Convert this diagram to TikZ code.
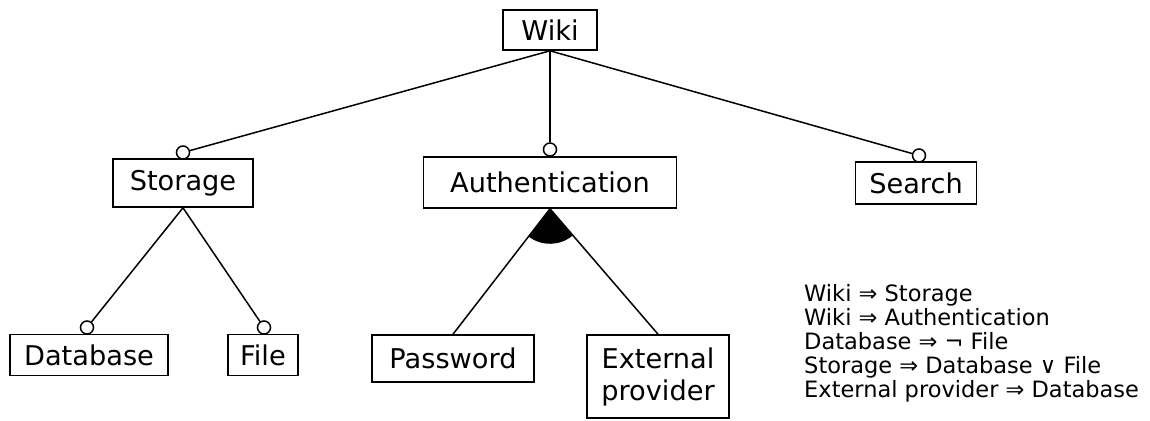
\documentclass[tikz,border=0pt]{standalone}
\usepackage{fontspec}
\setmainfont{DejaVu Sans}
\begin{document}
\begin{tikzpicture}[x=1pt,y=-1pt,
  feat/.style={draw,line width=1.6pt,inner sep=0pt,font=\fontsize{27.2}{32}\selectfont},
  opt/.style={circle,draw,line width=1.5pt,fill=white,minimum size=13pt,inner sep=0pt},
  con/.style={line width=1.5pt},
  rule/.style={anchor=base west,inner sep=0pt,font=\fontsize{22.5}{24}\selectfont}]
\useasboundingbox (0,0) rectangle (1150,420);
% features
\node[feat,minimum width=94pt,minimum height=40pt] (wiki) at (550,30) {Wiki};
\node[feat,minimum width=140pt,minimum height=48pt] (stor) at (183,183) {Storage};
\node[feat,minimum width=253pt,minimum height=51pt] (auth) at (550,182.5) {Authentication};
\node[feat,minimum width=121pt,minimum height=42pt] (srch) at (916,183) {Search};
\node[feat,minimum width=158pt,minimum height=41pt] (db) at (89,355) {Database};
\node[feat,minimum width=70pt,minimum height=41pt] (file) at (263,355) {File};
\node[feat,minimum width=162pt,minimum height=47pt] (pw) at (453,358.5) {Password};
\node[feat,minimum width=142pt,minimum height=83pt,align=center] (ext) at (658,376.5) {External\\provider};
% optional markers
\node[opt] (cstor) at (183,152.5) {};
\node[opt] (cauth) at (550,149.5) {};
\node[opt] (csrch) at (919,155.5) {};
\node[opt] (cdb) at (87,327.5) {};
\node[opt] (cfile) at (264,327.5) {};
% connectors
\draw[con] (wiki.south) -- (cstor);
\draw[con] (wiki.south) -- (cauth);
\draw[con] (wiki.south) -- (csrch);
\draw[con] (stor.south) -- (cdb);
\draw[con] (stor.south) -- (cfile);
\draw[con] (auth.south) -- (pw.north);
\draw[con] (auth.south) -- (ext.north);
\fill (auth.south) -- ++(49.9:35) arc[start angle=49.9,end angle=127.4,radius=35] -- cycle;
% constraints
\node[rule] (r1) at (804,301) {Wiki ⇒ Storage};
\node[rule] (r2) at (804,325) {Wiki ⇒ Authentication};
\node[rule] (r3) at (804,349) {Database ⇒ ¬ File};
\node[rule] (r4) at (804,373) {Storage ⇒ Database ∨ File};
\node[rule] (r5) at (804,397) {External provider ⇒ Database};
\end{tikzpicture}
\end{document}
